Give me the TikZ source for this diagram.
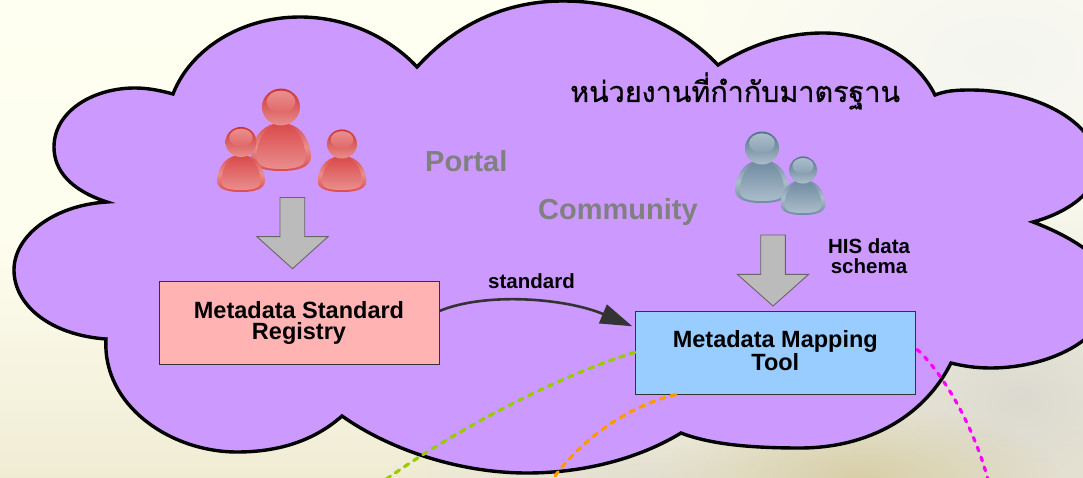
\documentclass[tikz,border=0pt]{standalone}
\usepackage{fontspec}
\setmainfont{Liberation Sans}
\newfontfamily\thaifont[Script=Thai,FakeBold=0.7]{Loma}
\usetikzlibrary{arrows.meta,fadings,calc}
\definecolor{cloudfill}{HTML}{CC99FF}
\definecolor{pinkbox}{HTML}{FFB3B3}
\definecolor{bluebox}{HTML}{99CCFF}
\definecolor{arrowgrey}{HTML}{BBBBBB}
\definecolor{textgrey}{HTML}{808080}
\definecolor{linkdark}{HTML}{333333}
\definecolor{linkgreen}{HTML}{99CC00}
\definecolor{linkorange}{HTML}{FF9900}
\definecolor{linkpink}{HTML}{FF00FF}
\definecolor{rdark}{HTML}{CC3232}
\definecolor{rmid}{HTML}{DA4A4A}
\definecolor{rlight}{HTML}{EA8E8E}
\definecolor{bdark}{HTML}{54718A}
\definecolor{bmid}{HTML}{6F8AA0}
\definecolor{blight}{HTML}{ABBDCB}
\definecolor{bgtl}{HTML}{FFFFF1}
\definecolor{bgbl}{HTML}{F0ECD4}
\definecolor{bgwarm}{HTML}{D6CCA2}
\definecolor{bgcool}{HTML}{D8D6CE}
\definecolor{bgtop}{HTML}{F4F4F0}
\tikzfading[name=blobfade,inner color=transparent!0,outer color=transparent!100]
\tikzset{
  block/.style={draw=linkdark,line width=.9pt,align=center,font=\bfseries\fontsize{23.5}{21}\selectfont,minimum width=280pt,inner sep=0pt},
  blockarrow/.style={fill=arrowgrey,draw=black!60,line width=.9pt,line join=miter},
  faint/.style={text=textgrey,font=\bfseries\fontsize{29}{30}\selectfont,inner sep=0pt},
  small/.style={text=black,font=\bfseries\fontsize{20.5}{19.5}\selectfont,align=center,inner sep=0pt},
  dashlink/.style={line width=3.2pt,line cap=round},
  blob/.style={path fading=blobfade}
}
% cx, head cy, head r, body top, body bottom, half width, dark, mid, light
\newcommand{\drawperson}[9]{%
  \shade[top color=#8,bottom color=#8,middle color=#9]
    ({#1},{#4}) .. controls ({#1+#6*.55},{#4}) and ({#1+#6*.92},{#4+(#5-#4)*.25}) .. ({#1+#6},{#4+(#5-#4)*.66})
    .. controls ({#1+#6*1.03},{#4+(#5-#4)*.85}) and ({#1+#6*.8},{#5}) .. ({#1},{#5})
    .. controls ({#1-#6*.8},{#5}) and ({#1-#6*1.03},{#4+(#5-#4)*.85}) .. ({#1-#6},{#4+(#5-#4)*.66})
    .. controls ({#1-#6*.92},{#4+(#5-#4)*.25}) and ({#1-#6*.55},{#4}) .. cycle;
  \shade[top color=#8,middle color=#7,bottom color=#9]
    ({#1},{#4+1}) .. controls ({#1+#6*.45},{#4+1}) and ({#1+#6*.78},{#4+(#5-#4)*.3}) .. ({#1+#6*.82},{#4+(#5-#4)*.68})
    .. controls ({#1+#6*.84},{#4+(#5-#4)*.88}) and ({#1+#6*.6},{#5-2}) .. ({#1},{#5-2})
    .. controls ({#1-#6*.6},{#5-2}) and ({#1-#6*.84},{#4+(#5-#4)*.88}) .. ({#1-#6*.82},{#4+(#5-#4)*.68})
    .. controls ({#1-#6*.78},{#4+(#5-#4)*.3}) and ({#1-#6*.45},{#4+1}) .. cycle;
  \shade[top color=#7,middle color=#7,bottom color=#9] ({#1},{#2}) ellipse ({#3} and {#3*.97});
  \shade[top color=#9,bottom color=#9!45!#8] ({#1},{#2-#3*.28}) ellipse ({#3*.76} and {#3*.58});
}
\begin{document}
\begin{tikzpicture}[x=1pt,y=-1pt]
\useasboundingbox (0,0) rectangle (1083,478);
\clip (0,0) rectangle (1083,478);
% background
\shade[top color=bgtl,bottom color=bgbl,middle color=bgtl!92!bgbl] (0,0) rectangle (1083,478);
\fill[blob,color=bgtop,opacity=.9] (1000,60) ellipse (380 and 230);
\fill[blob,color=bgcool,opacity=.85] (1020,400) ellipse (300 and 220);
\fill[blob,color=bgcool,opacity=.6] (650,480) ellipse (260 and 90);
\fill[blob,color=bgwarm,opacity=.9] (860,480) ellipse (200 and 75);
% cloud
\coordinate (c1) at (107,202);
\coordinate (c2) at (173,94);
\coordinate (c3) at (417,67);
\coordinate (c4) at (718,65);
\coordinate (c5) at (935,95);
\coordinate (c6) at (1033,222);
\coordinate (c7) at (951,363);
\coordinate (c8) at (681,433);
\coordinate (c9) at (342,416);
\coordinate (c10) at (106,339);
\draw[fill=cloudfill,draw=black,line width=3.4pt,line join=miter]
  (c1) .. controls (70,190) and (54,170) .. (54,147)
  .. controls (54,112) and (92,88) .. (135,88)
  .. controls (149,88) and (162,91) .. (c2)
  .. controls (190,50) and (240,17) .. (300,17)
  .. controls (345,17) and (388,36) .. (c3)
  .. controls (455,25) and (505,1) .. (563,1)
  .. controls (625,1) and (680,25) .. (c4)
  .. controls (750,45) and (785,33) .. (823,33)
  .. controls (870,33) and (915,55) .. (c5)
  .. controls (945,91) and (955,90) .. (970,90)
  .. controls (1040,90) and (1098,125) .. (1098,165)
  .. controls (1098,190) and (1070,212) .. (c6)
  .. controls (1075,238) and (1112,262) .. (1112,290)
  .. controls (1112,335) and (1055,368) .. (990,368)
  .. controls (976,368) and (963,366) .. (c7)
  .. controls (925,415) and (870,448) .. (800,448)
  .. controls (755,448) and (712,445) .. (c8)
  .. controls (640,458) and (585,473) .. (527,473)
  .. controls (460,473) and (390,450) .. (c9)
  .. controls (315,440) and (280,452) .. (237,452)
  .. controls (170,452) and (102,405) .. (c10)
  .. controls (50,335) and (14,305) .. (14,270)
  .. controls (14,235) and (55,205) .. (c1) -- cycle;
% people
\drawperson{281}{107}{19}{123}{171}{30}{rdark}{rmid}{rlight}
\drawperson{241}{142}{15.5}{155}{192}{24}{rdark}{rmid}{rlight}
\drawperson{342}{144}{15}{156}{192}{24.5}{rdark}{rmid}{rlight}
\drawperson{762}{148}{17}{160}{203}{27}{bdark}{bmid}{blight}
\drawperson{803}{170}{14}{180}{215}{22.5}{bdark}{bmid}{blight}
% block arrows
\draw[blockarrow] (280,197.5) -- (304.7,197.5) -- (304.7,236.7) -- (328,236.7) -- (292.5,268.7) -- (257,236.7) -- (280,236.7) -- cycle;
\draw[blockarrow] (760.7,235) -- (785.3,235) -- (785.3,274.3) -- (808.7,274.3) -- (773,306) -- (737.3,274.3) -- (760.7,274.3) -- cycle;
% boxes
\node[block,fill=pinkbox,minimum height=83.3pt] (registry) at (299,322.7) {Metadata Standard\\Registry};
\node[block,fill=bluebox,minimum height=83.3pt] (mapping) at (775.3,352.7) {\raisebox{2pt}{Metadata Mapping}\\\raisebox{3.5pt}{Tool}};
% texts
\node[faint,anchor=base west] (portal) at (425,172) {Portal};
\node[faint,anchor=base west] (community) at (538,220) {Community};
\node[small,anchor=base] (stdlabel) at (531.5,288) {standard};
\node[small,anchor=center] (hislabel) at (869,256) {HIS data\\schema};
\node[anchor=base west,inner sep=0pt] (agency) at (570,102) {\thaifont\fontsize{28.7}{32}\selectfont หน่วยงานที่กำกับมาตรฐาน};
% connectors
\coordinate (stdstart) at ([yshift=11.7pt]registry.east);
\coordinate (stdend) at ([xshift=-2.5pt,yshift=-15.7pt]mapping.north west);
\draw[draw=linkdark,line width=2.6pt,-{Triangle[length=32pt,width=20pt]}]
  (stdstart) .. controls (485,292) and (565,298) .. (stdend);
\coordinate (greenend) at (385,480);
\coordinate (orangeend) at (552,480);
\coordinate (pinkend) at (988,480);
\coordinate (greenstart) at ([yshift=-41.7pt]mapping.north west);
\coordinate (orangestart) at ([xshift=40.7pt]mapping.south west);
\coordinate (pinkstart) at ([xshift=1.5pt,yshift=-39pt]mapping.north east);
\draw[dashlink,draw=linkgreen,dash pattern=on 5pt off 6pt] (greenstart) .. controls (570,372) and (470,420) .. (greenend);
\draw[dashlink,draw=linkorange,dash pattern=on 5pt off 6pt] (orangestart) .. controls (630,405) and (582,438) .. (orangeend);
\draw[dashlink,draw=linkpink,dash pattern=on 4pt off 6.5pt] (pinkstart) .. controls (945,375) and (975,430) .. (pinkend);
\end{tikzpicture}
\end{document}
